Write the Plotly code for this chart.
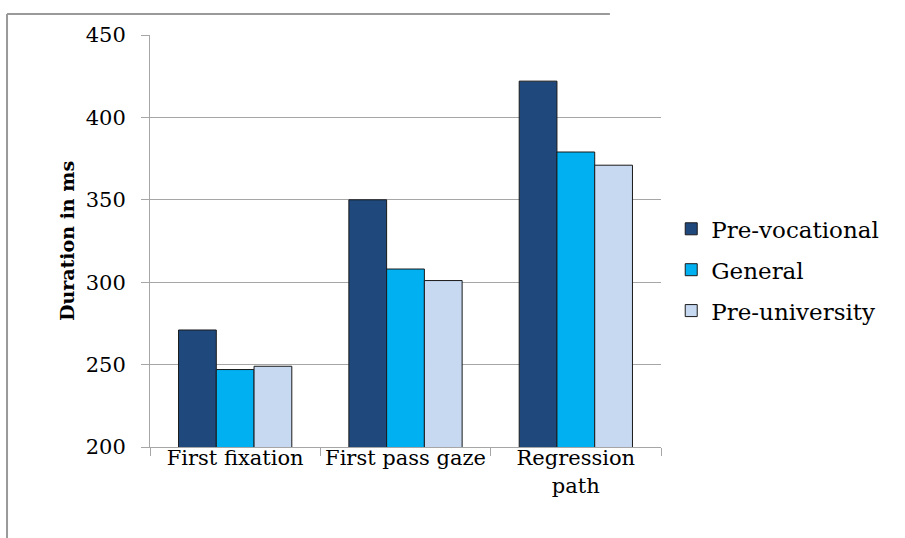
import plotly.graph_objects as go

# Reading measures per school track
categories = ["First fixation", "First pass gaze", "Regression<br>path"]
groups = ["Pre-vocational", "General", "Pre-university"]
pre_vocational = [271, 350, 422]
general = [247, 308, 379]
pre_university = [249, 301, 371]
colors = ["#1F497D", "#00B0F0", "#C6D9F1"]

y_ticks = [200, 250, 300, 350, 400, 450]

series = [pre_vocational, general, pre_university]

fig = go.Figure()
for name, vals, col in zip(groups, series, colors):
    fig.add_trace(go.Bar(
        x=categories, y=vals, name=name,
        marker=dict(color=col, line=dict(color="#1a1a1a", width=1)),
        legendgroup=name,
    ))

font_family = "DejaVu Serif"
grid = "#A6A6A6"

fig.update_layout(
    width=905, height=538,
    margin=dict(l=150, r=244, t=35, b=91),
    paper_bgcolor="white", plot_bgcolor="white",
    barmode="group", bargap=0.335, bargroupgap=0,
    font=dict(family=font_family, color="black"),
    legend=dict(
        x=1.02, y=0.43, xanchor="left", yanchor="middle",
        font=dict(family=font_family, size=23),
        tracegroupgap=8, itemwidth=30,
    ),
    xaxis=dict(
        showline=True, linecolor=grid, linewidth=1,
        ticks="outside", tickson="boundaries", ticklen=8, tickcolor=grid,
        tickfont=dict(family=font_family, size=21),
        ticklabelstandoff=-8,
        showgrid=False,
    ),
    yaxis=dict(
        range=[200, 450], tickvals=y_ticks,
        showline=True, linecolor=grid, linewidth=1,
        ticks="outside", ticklen=8, tickcolor=grid,
        showgrid=True, gridcolor=grid, gridwidth=1,
        tickfont=dict(family=font_family, size=21),
        ticklabelstandoff=11,
        title=dict(text="<b>Duration in ms</b>", font=dict(family=font_family, size=19), standoff=6),
        zeroline=False,
    ),
)

# outer frame of the chart area (left and top edges)
fig.add_shape(type="line", xref="paper", yref="paper",
              x0=-0.2798, x1=-0.2798, y0=1.051, y1=-0.25,
              line=dict(color="#9a9a9a", width=2))
fig.add_shape(type="line", xref="paper", yref="paper",
              x0=-0.2798, x1=0.9, y0=1.051, y1=1.051,
              line=dict(color="#9a9a9a", width=2))

fig.write_html("out.html")
